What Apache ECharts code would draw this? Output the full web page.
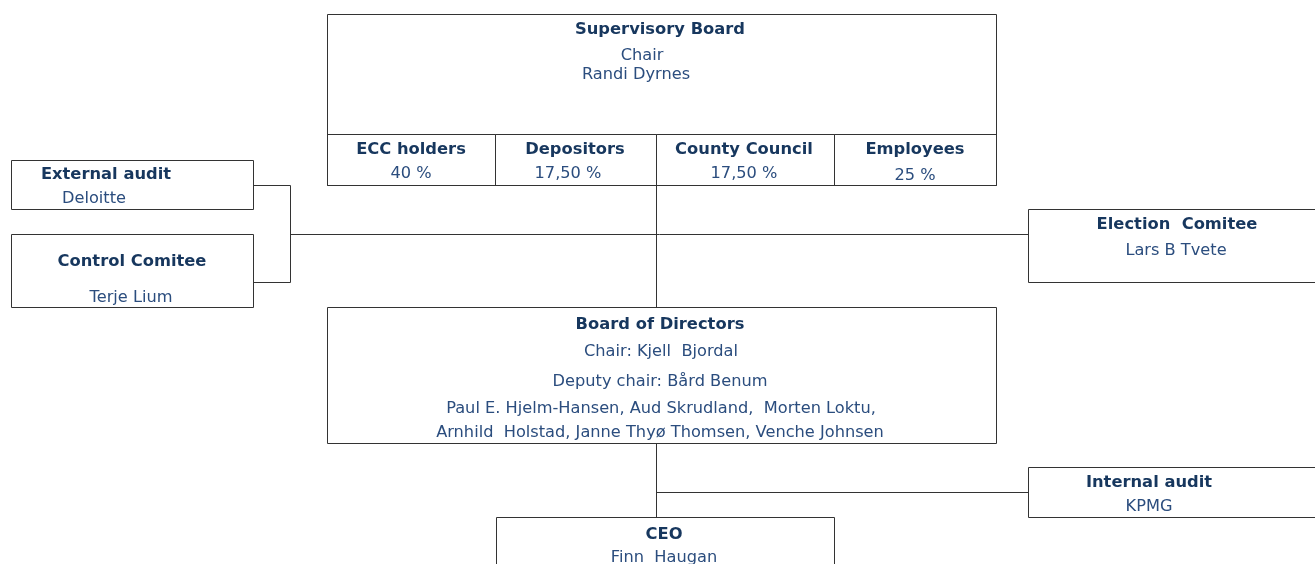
<!DOCTYPE html>
<html><head><meta charset="utf-8">
<script src="https://cdn.jsdelivr.net/npm/echarts@6/dist/echarts.min.js"></script>
<style>html,body{margin:0;padding:0;background:#fff}#c{width:1315px;height:564px}</style>
</head><body><div id="c"></div>
<script>
// Diagram coordinates (pixel-like units on hidden value axes)
var boxes = [
  [327, 14, 996, 185],     // Supervisory Board
  [327, 134, 495, 185],    // ECC holders
  [495, 134, 656, 185],    // Depositors
  [656, 134, 834, 185],    // County Council
  [834, 134, 996, 185],    // Employees
  [11, 160, 253, 209],     // External audit
  [11, 234, 253, 307],     // Control Comitee
  [1028, 209, 1330, 282],  // Election Comitee
  [327, 307, 996, 443],    // Board of Directors
  [1028, 467, 1330, 517],  // Internal audit
  [496, 517, 834, 600]     // CEO
];
var connectors = [
  [[253, 185], [290, 185], [290, 282], [253, 282]],
  [[290, 234], [1028, 234]],
  [[656, 185], [656, 307]],
  [[656, 443], [656, 517]],
  [[656, 492], [1028, 492]]
];
var headings = [
  [660, 29.5, 'Supervisory Board'],
  [411, 149.5, 'ECC holders'],
  [575, 149.5, 'Depositors'],
  [744, 149.5, 'County Council'],
  [915, 149.5, 'Employees'],
  [106, 174.5, 'External audit'],
  [132, 261.5, 'Control Comitee'],
  [1177, 224.5, 'Election  Comitee'],
  [660, 324.5, 'Board of Directors'],
  [1149, 482.5, 'Internal audit'],
  [664, 534.5, 'CEO']
];
var texts = [
  [642, 56, 'Chair'],
  [636, 75, 'Randi Dyrnes'],
  [411, 174, '40 %'],
  [568, 174, '17,50 %'],
  [744, 174, '17,50 %'],
  [915, 176, '25 %'],
  [94, 199, 'Deloitte'],
  [131, 298, 'Terje Lium'],
  [1176, 251, 'Lars B Tvete'],
  [661, 352, 'Chair: Kjell  Bjordal'],
  [660, 382, 'Deputy chair: Bård Benum'],
  [661, 409, 'Paul E. Hjelm-Hansen, Aud Skrudland,  Morten Loktu,'],
  [660, 433, 'Arnhild  Holstad, Janne Thyø Thomsen, Venche Johnsen'],
  [1149, 507, 'KPMG'],
  [664, 558, 'Finn  Haugan']
];

var LINE = '#333333';
var HEAD = '#17375e';
var BODY = '#2b4d7e';

function crisp(v){ return Math.round(v) + 0.5; }

function textSeries(list, font, color, sx){
  return {
    type: 'custom', clip: false,
    data: list.map(function(h){ return [h[0], h[1]]; }),
    renderItem: function(params, api){
      var q = api.coord([api.value(0), api.value(1)]);
      return {type:'text', x:q[0], y:q[1], scaleX: sx, style:{text: list[params.dataIndex][2], fill:color,
        font: font, align:'center', verticalAlign:'middle'}};
    }
  };
}

var chart = echarts.init(document.getElementById('c'), null, {renderer:'canvas'});
chart.setOption({
  animation: false,
  grid: {left: 0, right: 0, top: 0, bottom: 0},
  xAxis: {type: 'value', min: 0, max: 1315, show: false},
  yAxis: {type: 'value', min: 0, max: 564, inverse: true, show: false},
  series: [
    {
      type: 'custom', clip: true,
      data: boxes,
      renderItem: function(params, api){
        var p0 = api.coord([api.value(0), api.value(1)]);
        var p1 = api.coord([api.value(2), api.value(3)]);
        return {type:'rect', shape:{x:crisp(p0[0]), y:crisp(p0[1]), width:Math.round(p1[0]-p0[0]), height:Math.round(p1[1]-p0[1])},
          style:{fill:'none', stroke:LINE, lineWidth:1}};
      }
    },
    {
      type: 'custom', clip: true,
      data: connectors.map(function(c, i){ return [i]; }),
      renderItem: function(params, api){
        var pts = connectors[api.value(0)].map(function(p){ var q = api.coord(p); return [crisp(q[0]), crisp(q[1])]; });
        return {type:'polyline', shape:{points: pts}, style:{fill:'none', stroke:LINE, lineWidth:1}};
      }
    },
    textSeries(headings, 'bold 16px "DejaVu Sans", sans-serif', HEAD, 1.02),
    textSeries(texts, '15px "DejaVu Sans", sans-serif', BODY, 1.08)
  ]
});
</script></body></html>
